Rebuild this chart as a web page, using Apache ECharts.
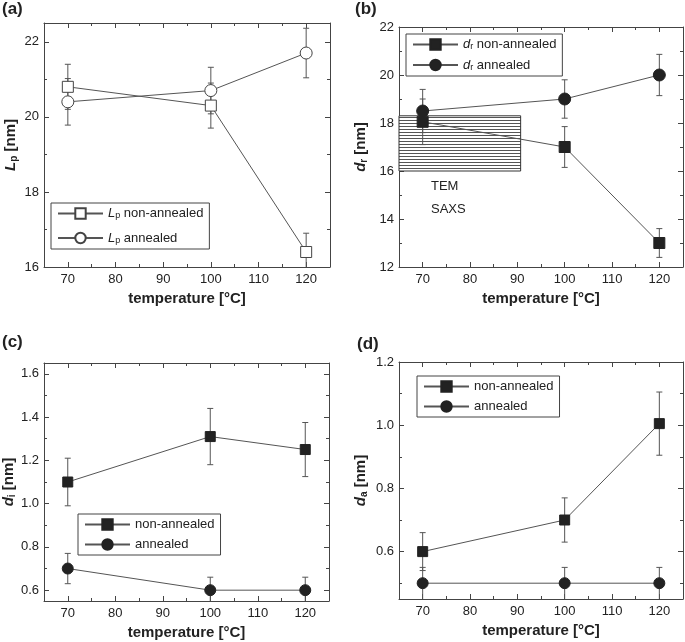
<!DOCTYPE html>
<html>
<head>
<meta charset="utf-8">
<script src="https://cdn.jsdelivr.net/npm/echarts@6/dist/echarts.min.js"></script>
<style>
  html, body { margin: 0; padding: 0; background: #fff; }
  #chart { width: 685px; height: 642px; }
</style>
</head>
<body>
<div id="chart"></div>
<script>
// ---------------- data ----------------
const temps = [70, 100, 120];

// (a) long period Lp
const lpNon = [20.8, 20.3, 16.4];
const lpNonErr = [0.6, 0.6, 0.5];
const lpAnn = [20.4, 20.7, 21.7];
const lpAnnErr = [0.62, 0.62, 0.66];

// (b) dr
const drNon = [18.05, 17.0, 13.0];
const drNonErr = [0.95, 0.85, 0.6];
const drAnn = [18.5, 19.0, 20.0];
const drAnnErr = [0.9, 0.8, 0.86];

// TEM range (hatched box in b)
const temX = [65, 90.7];
const temY = [16.0, 18.3];

// (c) di
const diNon = [1.10, 1.31, 1.25];
const diNonErr = [0.11, 0.13, 0.125];
const diAnn = [0.70, 0.60, 0.60];
const diAnnErr = [0.07, 0.06, 0.06];

// (d) da
const daNon = [0.60, 0.70, 1.005];
const daNonErr = [0.06, 0.07, 0.10];
const daAnn = [0.50, 0.50, 0.50];
const daAnnErr = [0.05, 0.05, 0.05];

// axes
const xRange = [65, 125];
const xMajor = [70, 80, 90, 100, 110, 120];
const xMinor = [75, 85, 95, 105, 115];

const aYRange = [16, 22.5];
const aYMajor = [16, 18, 20, 22];
const aYMinor = [17, 19, 21];

const bYRange = [12, 22];
const bYMajor = [12, 14, 16, 18, 20, 22];
const bYMinor = [13, 15, 17, 19, 21];

const cYRange = [0.55, 1.65];
const cYMajor = [0.6, 0.8, 1.0, 1.2, 1.4, 1.6];
const cYMinor = [0.7, 0.9, 1.1, 1.3, 1.5];

const dYRange = [0.45, 1.2];
const dYMajor = [0.6, 0.8, 1.0, 1.2];
const dYMinor = [0.5, 0.7, 0.9, 1.1];

// ---------------- style ----------------
const FONT = 'Liberation Sans, Arial, Helvetica, sans-serif';
const TEXT = '#222';
const FRAME = '#444';
const LINE = '#555';
const MARK = '#222';

const grids = [
  { left: 44, top: 23, width: 286, height: 244 },
  { left: 399, top: 27, width: 284, height: 240 },
  { left: 44, top: 363, width: 285, height: 238 },
  { left: 399, top: 362, width: 284, height: 237 }
];

function axesFor(dim, gi, range, major, minor, o) {
  const pos = dim === 'x' ? ['bottom', 'top'] : ['left', 'right'];
  const base = {
    gridIndex: gi, type: 'value', min: range[0], max: range[1],
    splitLine: { show: false },
    axisLine: { show: true, onZero: false, lineStyle: { color: FRAME, width: 1 } }
  };
  const main = Object.assign({}, base, {
    position: pos[0],
    axisTick: { show: true, inside: true, length: 5, customValues: major, lineStyle: { color: FRAME } },
    axisLabel: {
      show: true, customValues: major, margin: o.margin, fontSize: 13, color: TEXT, fontFamily: FONT,
      formatter: o.fmt
    },
    name: o.name, nameLocation: 'middle', nameGap: o.nameGap, nameRotate: dim === 'y' ? 90 : 0,
    nameTextStyle: Object.assign({ fontSize: 15, fontWeight: 'bold', color: TEXT, fontFamily: FONT }, o.nameStyle || {})
  });
  const minorAx = Object.assign({}, base, {
    position: pos[0], axisLine: { show: false, onZero: false },
    axisTick: { show: true, inside: true, length: 3, customValues: minor, lineStyle: { color: FRAME } },
    axisLabel: { show: false }
  });
  const mirror = Object.assign({}, base, {
    position: pos[1],
    axisTick: { show: true, inside: true, length: 5, customValues: major, lineStyle: { color: FRAME } },
    axisLabel: { show: false }
  });
  const mirrorMinor = Object.assign({}, base, {
    position: pos[1], axisLine: { show: false, onZero: false },
    axisTick: { show: true, inside: true, length: 3, customValues: minor, lineStyle: { color: FRAME } },
    axisLabel: { show: false }
  });
  return [main, minorAx, mirror, mirrorMinor];
}

const xFmt = v => String(v);
const yIntFmt = v => String(v);
const yDecFmt = v => Number(v).toFixed(1);

const xTitle = 'temperature [°C]';
const yNameRich = {
  i: { fontStyle: 'italic', fontWeight: 'bold', fontSize: 15, color: TEXT, fontFamily: FONT },
  s: { fontWeight: 'bold', fontSize: 10, color: TEXT, fontFamily: FONT, verticalAlign: 'bottom', padding: [6, 0, 0, 0] },
  b: { fontWeight: 'bold', fontSize: 15, color: TEXT, fontFamily: FONT }
};

const yAxisSpecs = [
  { range: aYRange, major: aYMajor, minor: aYMinor, fmt: yIntFmt, name: '{i|L}{s|p}{b| [nm]}', gap: 25 },
  { range: bYRange, major: bYMajor, minor: bYMinor, fmt: yIntFmt, name: '{i|d}{s|r}{b| [nm]}', gap: 30 },
  { range: cYRange, major: cYMajor, minor: cYMinor, fmt: yDecFmt, name: '{i|d}{s|i}{b| [nm]}', gap: 24 },
  { range: dYRange, major: dYMajor, minor: dYMinor, fmt: yDecFmt, name: '{i|d}{s|a}{b| [nm]}', gap: 30 }
];

let xAxes = [], yAxes = [];
for (let gi = 0; gi < 4; gi++) {
  xAxes = xAxes.concat(axesFor('x', gi, xRange, xMajor, xMinor, { margin: 6, fmt: xFmt, name: xTitle, nameGap: 24 }));
  const s = yAxisSpecs[gi];
  yAxes = yAxes.concat(axesFor('y', gi, s.range, s.major, s.minor, {
    margin: 5, fmt: s.fmt, name: s.name, nameGap: s.gap, nameStyle: { rich: yNameRich }
  }));
}

function errSeries(gi, xs, ys, es) {
  return {
    type: 'custom', xAxisIndex: 4 * gi, yAxisIndex: 4 * gi, z: 2, silent: true, animation: false,
    data: xs.map((x, i) => [x, ys[i], es[i]]),
    encode: { x: 0, y: 1 },
    renderItem(params, api) {
      const x = api.value(0), y = api.value(1), e = api.value(2);
      const cs = params.coordSys;
      const top = api.coord([x, y + e]);
      const bot = api.coord([x, y - e]);
      const yMin = cs.y, yMax = cs.y + cs.height;
      const t = Math.max(top[1], yMin), b = Math.min(bot[1], yMax);
      const st = { stroke: LINE, lineWidth: 1 };
      const w = 3;
      const ch = [{ type: 'line', shape: { x1: top[0], y1: t, x2: top[0], y2: b }, style: st }];
      if (top[1] >= yMin) ch.push({ type: 'line', shape: { x1: top[0] - w, y1: top[1], x2: top[0] + w, y2: top[1] }, style: st });
      if (bot[1] <= yMax - 0.5) ch.push({ type: 'line', shape: { x1: bot[0] - w, y1: bot[1], x2: bot[0] + w, y2: bot[1] }, style: st });
      return { type: 'group', children: ch };
    }
  };
}

function lineSeries(gi, name, xs, ys, symbol, size, filled) {
  return {
    type: 'line', name: name, xAxisIndex: 4 * gi, yAxisIndex: 4 * gi, z: 3, animation: false,
    data: xs.map((x, i) => [x, ys[i]]),
    symbol: symbol, symbolSize: size, showSymbol: true,
    lineStyle: { color: LINE, width: 1 },
    itemStyle: filled ? { color: MARK, borderColor: MARK, borderWidth: 1 }
                      : { color: '#fff', borderColor: '#444', borderWidth: 1 },
    emphasis: { disabled: true }
  };
}

// hatch pattern for TEM box
const pat = document.createElement('canvas');
pat.width = 6; pat.height = 3;
const pctx = pat.getContext('2d');
pctx.fillStyle = '#ffffff'; pctx.fillRect(0, 0, 6, 3);
pctx.fillStyle = '#555555'; pctx.fillRect(0, 0, 6, 1);

const legendText = {
  aNon: '{i|L}{s|p}{t| non-annealed}', aAnn: '{i|L}{s|p}{t| annealed}',
  bNon: '{i|d}{s|r}{t| non-annealed}', bAnn: '{i|d}{s|r}{t| annealed}',
  cNon: 'non-annealed', cAnn: 'annealed',
  dNon: 'non-annealed', dAnn: 'annealed'
};
const legendRich = {
  i: { fontStyle: 'italic', fontSize: 13, color: TEXT, fontFamily: FONT },
  s: { fontSize: 9, color: TEXT, fontFamily: FONT, verticalAlign: 'bottom', padding: [5, 0, 0, 0] },
  t: { fontSize: 13, color: TEXT, fontFamily: FONT }
};
function legendFor(names, left, top, gap) {
  return {
    show: true, orient: 'vertical', left: left, top: top, padding: [4, 6, 4, 6],
    itemGap: gap, itemWidth: 45, itemHeight: 13, borderColor: FRAME, borderWidth: 1,
    data: names, selectedMode: false,
    formatter: n => legendText[n],
    textStyle: { fontSize: 13, color: TEXT, fontFamily: FONT, rich: legendRich }
  };
}

const series = [
  errSeries(0, temps, lpNon, lpNonErr), errSeries(0, temps, lpAnn, lpAnnErr),
  lineSeries(0, 'aNon', temps, lpNon, 'rect', 11, false),
  lineSeries(0, 'aAnn', temps, lpAnn, 'circle', 12, false),

  {
    type: 'line', xAxisIndex: 4, yAxisIndex: 4, data: [], z: 1, silent: true, animation: false,
    markArea: {
      silent: true,
      itemStyle: { color: { image: pat, repeat: 'repeat' }, borderColor: '#333', borderWidth: 1 },
      data: [[{ coord: [temX[0], temY[1]] }, { coord: [temX[1], temY[0]] }]]
    }
  },
  errSeries(1, temps, drNon, drNonErr), errSeries(1, temps, drAnn, drAnnErr),
  lineSeries(1, 'bNon', temps, drNon, 'rect', 11, true),
  lineSeries(1, 'bAnn', temps, drAnn, 'circle', 12, true),

  errSeries(2, temps, diNon, diNonErr), errSeries(2, temps, diAnn, diAnnErr),
  lineSeries(2, 'cNon', temps, diNon, 'rect', 10, true),
  lineSeries(2, 'cAnn', temps, diAnn, 'circle', 11, true),

  errSeries(3, temps, daNon, daNonErr), errSeries(3, temps, daAnn, daAnnErr),
  lineSeries(3, 'dNon', temps, daNon, 'rect', 10, true),
  lineSeries(3, 'dAnn', temps, daAnn, 'circle', 11, true)
];

const panelLabel = (txt, left, top) => ({
  type: 'text', left: left, top: top,
  style: { text: txt, fontSize: 17, fontWeight: 'bold', fill: TEXT, fontFamily: FONT }
});

const option = {
  backgroundColor: '#fff',
  animation: false,
  grid: grids,
  xAxis: xAxes,
  yAxis: yAxes,
  legend: [
    legendFor(['aNon', 'aAnn'], 51, 203, 11),
    legendFor(['bNon', 'bAnn'], 406, 34, 7),
    legendFor(['cNon', 'cAnn'], 78, 514, 7),
    legendFor(['dNon', 'dAnn'], 417, 376, 7)
  ],
  series: series,
  graphic: [
    panelLabel('(a)', 2, 1),
    panelLabel('(b)', 355, 1),
    panelLabel('(c)', 2, 334),
    panelLabel('(d)', 357, 336),
    { type: 'text', left: 431, top: 180, style: { text: 'TEM', fontSize: 13, fill: TEXT, fontFamily: FONT } },
    { type: 'text', left: 431, top: 203, style: { text: 'SAXS', fontSize: 13, fill: TEXT, fontFamily: FONT } }
  ]
};

const chart = echarts.init(document.getElementById('chart'), null, { renderer: 'canvas' });
chart.setOption(option);
</script>
</body>
</html>
